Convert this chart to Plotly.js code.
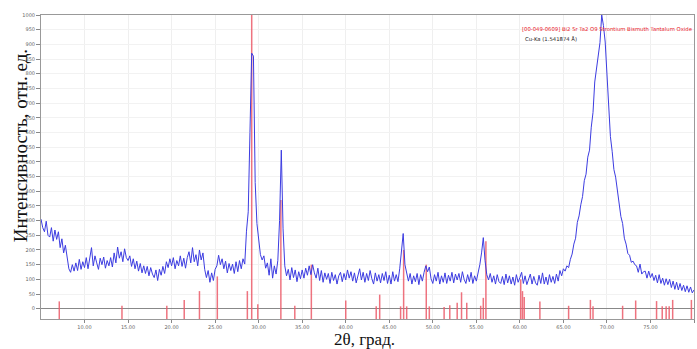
<!DOCTYPE html>
<html>
<head>
<meta charset="utf-8">
<script src="https://cdn.plot.ly/plotly-3.0.1.min.js"></script>
<style>html,body{margin:0;padding:0;background:#fff;}#chart{width:697px;height:349px;}</style>
</head>
<body>
<div id="chart"></div>
<script>
// XRD scan: 2θ from 5° to 80°, step 0.2°
const twoThetaStart = 5;
const twoThetaStep = 0.2;
const intensity = [
 305, 276, 262, 298, 250,
 244, 276, 230, 268, 236,
 262, 208, 238, 190, 216,
 172, 136, 124, 150, 128,
 156, 130, 168, 134, 160,
 140, 174, 136, 170, 208,
 146, 180, 156, 134, 172,
 150, 176, 138, 164, 146,
 174, 142, 190, 156, 210,
 172, 194, 160, 204, 174,
 164, 180, 144, 170, 136,
 162, 128, 154, 122, 146,
 120, 144, 112, 140, 118,
 106, 132, 96, 134, 114,
 144, 120, 160, 140, 170,
 146, 174, 136, 164, 146,
 180, 144, 172, 138, 174,
 194, 156, 208, 160, 184,
 146, 200, 166, 190, 134,
 106, 130, 90, 122, 96,
 134, 146, 182, 150, 170,
 136, 162, 122, 154, 130,
 152, 120, 160, 126, 164,
 136, 170, 152, 264, 330,
 600, 870, 860, 430, 290,
 236, 184, 166, 180, 138,
 156, 114, 170, 104, 146,
 118, 164, 300, 540, 272,
 146, 112, 134, 98, 140,
 106, 132, 92, 126, 102,
 132, 104, 138, 114, 146,
 116, 150, 122, 104, 138,
 96, 130, 90, 122, 100,
 120, 86, 124, 96, 116,
 84, 112, 124, 92, 120,
 98, 132, 104, 126, 94,
 122, 88, 116, 136, 98,
 124, 90, 120, 96, 130,
 102, 84, 122, 94, 116,
 88, 120, 96, 126, 86,
 114, 84, 126, 94, 116,
 92, 136, 200, 256, 150,
 124, 94, 120, 84, 112,
 92, 120, 82, 116, 94,
 124, 146, 126, 142, 102,
 86, 116, 94, 124, 84,
 112, 90, 122, 86, 114,
 94, 124, 88, 118, 98,
 120, 90, 126, 100, 86,
 116, 92, 124, 86, 112,
 94, 120, 150, 190, 242,
 164, 116, 98, 120, 90,
 112, 84, 116, 92, 86,
 110, 82, 118, 88, 112,
 84, 108, 80, 116, 90,
 106, 124, 86, 112, 82,
 104, 118, 84, 110, 88,
 80, 114, 86, 122, 84,
 108, 82, 116, 90, 110,
 86, 118, 94, 130, 112,
 136, 128, 146, 140, 168,
 186, 220, 240, 294, 316,
 354, 382, 436, 458, 516,
 540, 618, 668, 772, 818,
 878, 906, 1000, 964, 908,
 792, 690, 586, 536, 474,
 448, 396, 366, 314, 290,
 240, 220, 188, 182, 158,
 162, 150, 146, 124, 152,
 118, 126, 128, 104, 128,
 106, 120, 96, 114, 88,
 116, 86, 104, 80, 102,
 82, 100, 72, 94, 66,
 90, 64, 86, 62, 80,
 58, 78, 56, 74, 54,
 64
];

// Reference card 00-049-0609 (Bi2SrTa2O9) stick positions and heights
const stickPos = [7.1, 14.3, 19.45, 21.45, 23.2, 25.25, 28.7, 29.2, 29.9, 32.55, 34.15, 36.05, 40.0, 43.5, 43.9, 46.3, 46.65, 47.0, 49.25, 49.6, 51.3, 51.95, 52.8, 53.3, 53.9, 55.5, 55.8, 56.1, 60.1, 60.3, 60.5, 62.3, 65.6, 68.1, 68.4, 71.8, 73.3, 75.7, 76.35, 76.8, 77.15, 77.55, 79.7];
const stickHeight = [25, 10, 10, 30, 60, 110, 60, 1000, 15, 370, 10, 150, 28, 8, 48, 8, 200, 8, 150, 8, 6, 12, 20, 56, 20, 10, 37, 230, 100, 60, 40, 25, 10, 30, 8, 10, 28, 26, 8, 8, 8, 30, 30];

const xTicks = [10, 15, 20, 25, 30, 35, 40, 45, 50, 55, 60, 65, 70, 75, 80];
const yTicks = [0, 50, 100, 150, 200, 250, 300, 350, 400, 450, 500, 550, 600, 650, 700, 750, 800, 850, 900, 950, 1000];

const legendCard = "[00-049-0609] Bi2 Sr Ta2 O9 Strontium Bismuth Tantalum Oxide";
const legendRad = "Cu-Ka (1.541874 Å)";
const yTitle = "Интенсивность, отн. ед.";
const xTitle = "2θ, град.";

const yMin = -35, yMax = 1000;

const sx = [], sy = [];
for (let i = 0; i < stickPos.length; i++) {
  sx.push(stickPos[i], stickPos[i], null);
  sy.push(yMin, stickHeight[i], null);
}

const traces = [
  {type: 'scatter', mode: 'lines', x: sx, y: sy, hoverinfo: 'skip',
   line: {color: 'rgba(235,90,105,0.85)', width: 1.5}, showlegend: false},
  {type: 'scatter', mode: 'lines', x0: twoThetaStart, dx: twoThetaStep, y: intensity,
   line: {color: 'rgb(60,60,225)', width: 1}, showlegend: false}
];

const tickFont = {family: 'DejaVu Sans, sans-serif', size: 5, color: '#666'};

const layout = {
  width: 697, height: 349,
  margin: {l: 41, r: 3, t: 15, b: 30, pad: 0},
  paper_bgcolor: '#fff', plot_bgcolor: '#fff',
  showlegend: false,
  xaxis: {range: [5, 80], tickvals: xTicks, ticktext: xTicks.map(v => v.toFixed(2)),
    tickfont: tickFont, ticks: 'outside', ticklen: 3, tickcolor: '#888',
    showgrid: true, gridcolor: '#efefef', zeroline: false,
    showline: true, linecolor: '#999', linewidth: 1, mirror: true},
  yaxis: {range: [yMin, yMax], tickvals: yTicks,
    tickfont: tickFont, ticks: 'outside', ticklen: 4, tickcolor: '#888',
    showgrid: true, gridcolor: '#f2f2f2', zeroline: true, zerolinecolor: '#888', zerolinewidth: 1,
    showline: true, linecolor: '#999', linewidth: 1, mirror: true},
  annotations: [
    {text: legendCard, xref: 'paper', yref: 'paper', x: 0.733, y: 0.954, xanchor: 'left', yanchor: 'middle',
     showarrow: false, font: {family: 'DejaVu Sans, sans-serif', size: 5.3, color: '#e8202a'}},
    {text: legendRad, xref: 'paper', yref: 'paper', x: 0.738, y: 0.921, xanchor: 'left', yanchor: 'middle',
     showarrow: false, font: {family: 'DejaVu Sans, sans-serif', size: 5.3, color: '#222'}},
    {text: yTitle, xref: 'paper', yref: 'paper', x: -0.032, y: 0.569, xanchor: 'center', yanchor: 'middle',
     textangle: -90, showarrow: false, font: {family: 'Liberation Serif, Times New Roman, serif', size: 19, color: '#111'}},
    {text: xTitle, xref: 'paper', yref: 'paper', x: 0.496, y: -0.033, xanchor: 'center', yanchor: 'top',
     borderpad: 0, showarrow: false, font: {family: 'Liberation Serif, Times New Roman, serif', size: 17, color: '#111'}}
  ]
};

Plotly.newPlot('chart', traces, layout, {staticPlot: true, displayModeBar: false});
</script>
</body>
</html>
